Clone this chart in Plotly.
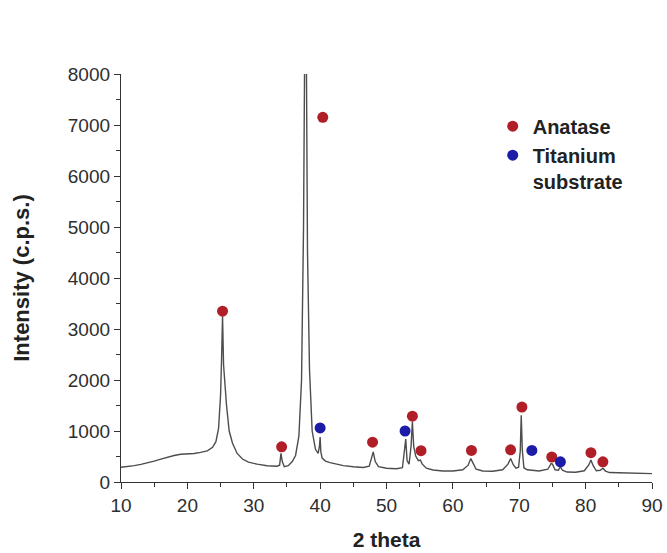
import plotly.graph_objects as go

# XRD pattern (2 theta, intensity in c.p.s.)
two_theta = [10, 11, 12, 13, 14, 15, 16, 17, 18, 19, 20, 21, 22, 23, 23.8, 24.3, 24.7, 25.0, 25.15, 25.3,
             25.45, 25.6, 25.9, 26.3, 26.8, 27.5, 28.3, 29.2, 30.5, 32, 33.5, 33.9, 34.1, 34.3, 34.6, 35.2,
             35.8, 36.3, 36.8, 37.2, 37.5, 37.7, 37.8, 37.9, 38.1, 38.4, 38.8, 39.3, 39.7, 39.9, 40.0, 40.1,
             40.3, 40.8, 41.5, 42.5, 43.5, 45, 46.5, 47.4, 47.8, 48.0, 48.3, 48.8, 50, 51.5, 52.4, 52.75,
             52.9, 53.1, 53.4, 53.7, 53.9, 54.1, 54.4, 54.8, 55.1, 55.4, 56, 57, 58.5, 60, 61.5, 62.3, 62.7,
             63.0, 63.5, 64.5, 66, 67.5, 68.3, 68.7, 69.1, 69.5, 69.9, 70.15, 70.3, 70.45, 70.7, 71.2, 72,
             73, 74.3, 74.8, 75.0, 75.4, 75.9, 76.2, 76.5, 77.2, 78.5, 79.8, 80.5, 80.8, 81.1, 81.6, 82.2,
             82.6, 83.0, 83.6, 85, 87, 89, 90]
intensity = [290, 300, 320, 345, 375, 410, 450, 490, 520, 545, 550, 560, 580, 610, 680, 790, 1050, 1700, 2400, 3250,
             2300, 1950, 1500, 1000, 760, 560, 450, 390, 350, 320, 310, 330, 560, 400, 300, 320,
             400, 520, 900, 2000, 5000, 9000, 12000, 9000, 4500, 2200, 1000, 640, 560, 700, 880, 600,
             470, 410, 380, 345, 320, 300, 285, 310, 480, 590, 400, 300, 270, 260, 280, 600,
             840, 420, 350, 700, 1180, 700, 510, 420, 430, 350, 270, 235, 215, 215, 240, 330, 460,
             380, 250, 215, 210, 240, 350, 460, 340, 270, 290, 600, 1310, 650, 280, 240, 230,
             215, 250, 360, 350, 240, 230, 300, 230, 195, 190, 220, 340, 430, 330, 220, 230,
             270, 215, 185, 180, 170, 165, 165]

# Phase markers
anatase_x = [25.3, 34.2, 40.4, 47.9, 53.9, 55.2, 62.8, 68.7, 70.4, 74.9, 80.8, 82.6]
anatase_y = [3350, 690, 7150, 780, 1290, 615, 620, 630, 1470, 490, 575, 395]
titanium_x = [40.0, 52.8, 71.9, 76.2]
titanium_y = [1060, 1000, 620, 395]

x_ticks = [10, 20, 30, 40, 50, 60, 70, 80, 90]
y_ticks = [0, 1000, 2000, 3000, 4000, 5000, 6000, 7000, 8000]

FONT = "Liberation Sans, Arial, sans-serif"

fig = go.Figure()
fig.add_trace(go.Scatter(x=two_theta, y=intensity, mode="lines",
                         line=dict(color="#4d4d4d", width=1.4), showlegend=False, hoverinfo="skip"))
fig.add_trace(go.Scatter(x=anatase_x, y=anatase_y, mode="markers", name="<b>Anatase</b>",
                         marker=dict(color="#b01e28", size=11, line=dict(width=0))))
fig.add_trace(go.Scatter(x=titanium_x, y=titanium_y, mode="markers", name="<b>Titanium<br>substrate</b>",
                         marker=dict(color="#1c1ca8", size=11, line=dict(width=0))))

axis_font = dict(family=FONT, size=19, color="#2e2e2e")
fig.update_xaxes(range=[10, 90], tickvals=x_ticks, ticks="outside", ticklen=6, tickwidth=1.3,
                 tickcolor="#333", showline=True, linecolor="#333", linewidth=1.3,
                 showgrid=False, zeroline=False, tickfont=axis_font, automargin=False,
                 minor=dict(dtick=5, ticks="outside", ticklen=4, tickcolor="#333", tickwidth=1.3),
                 title=dict(text="<b>2 theta</b>", standoff=17,
                            font=dict(family=FONT, size=21, color="#222")))
fig.update_yaxes(range=[0, 8000], tickvals=y_ticks, ticks="outside", ticklen=6, tickwidth=1.3,
                 tickcolor="#333", showline=True, linecolor="#333", linewidth=1.3,
                 showgrid=False, zeroline=False, tickfont=axis_font, automargin=False,
                 minor=dict(dtick=500, ticks="outside", ticklen=4, tickcolor="#333", tickwidth=1.3),
                 title=dict(text="<b>Intensity (c.p.s.)</b>", standoff=32,
                            font=dict(family=FONT, size=22, color="#222")))

fig.update_layout(
    width=667, height=553,
    margin=dict(l=121, r=15, t=74, b=71),
    plot_bgcolor="white", paper_bgcolor="white",
    legend=dict(x=0.70, y=0.92, xanchor="left", yanchor="top", bgcolor="rgba(0,0,0,0)",
                font=dict(family=FONT, size=20, color="#222"), valign="top",
                itemwidth=30, tracegroupgap=0),
)

fig.write_html("out.html")
